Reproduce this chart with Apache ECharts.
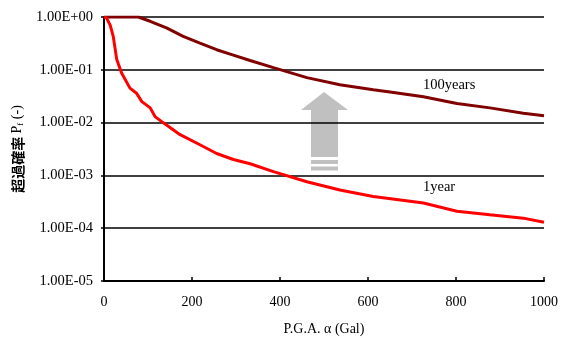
<!DOCTYPE html>
<html>
<head>
<meta charset="utf-8">
<script src="https://cdn.jsdelivr.net/npm/echarts@6/dist/echarts.min.js"></script>
<style>
  html, body { margin: 0; padding: 0; background: #fff; }
  #chart { width: 569px; height: 338px; }
</style>
</head>
<body>
<div id="chart"></div>
<script>
// 1year curve (P.G.A. in Gal, exceedance probability)
var gal1 = [0, 6, 14, 21, 29, 40, 59, 74, 86, 105, 116, 135, 173, 218, 256, 294, 332, 385, 461, 536, 612, 665, 726, 802, 877, 953, 1000];
var p1 = [1.0, 0.95, 0.7, 0.43, 0.156, 0.087, 0.045, 0.036, 0.025, 0.019, 0.013, 0.0099, 0.0059, 0.0038, 0.0026, 0.0020, 0.00166, 0.00118, 0.00076, 0.00053, 0.0004, 0.00035, 0.0003, 0.00021, 0.00018, 0.000155, 0.00013];

// 100years curve
var gal100 = [0, 40, 78, 105, 142, 180, 218, 256, 294, 332, 385, 461, 536, 612, 650, 726, 802, 877, 953, 1000];
var p100 = [1.0, 1.0, 1.0, 0.83, 0.62, 0.43, 0.32, 0.24, 0.19, 0.15, 0.11, 0.071, 0.052, 0.042, 0.038, 0.031, 0.023, 0.019, 0.015, 0.0135];

var yTickLabels = ['1.00E-05', '1.00E-04', '1.00E-03', '1.00E-02', '1.00E-01', '1.00E+00'];
var xTicks = [0, 200, 400, 600, 800, 1000];

function pairs(xs, ys) {
  var out = [];
  for (var i = 0; i < xs.length; i++) out.push([xs[i], ys[i]]);
  return out;
}

var chart = echarts.init(document.getElementById('chart'));
var serif = '"Liberation Serif", "DejaVu Serif", serif';

var option = {
  animation: false,
  grid: { left: 104, right: 25, top: 17, bottom: 57, containLabel: false, outerBoundsMode: 'none' },
  xAxis: {
    type: 'value',
    min: xTicks[0],
    max: xTicks[xTicks.length - 1],
    interval: 200,
    name: 'P.G.A. α (Gal)',
    nameLocation: 'middle',
    nameGap: 41,
    nameTextStyle: { fontFamily: serif, fontSize: 14, color: '#000' },
    axisLine: { lineStyle: { color: '#000', width: 2 } },
    axisTick: { inside: true, length: 4, lineStyle: { color: '#000', width: 1.5 } },
    axisLabel: {
      fontFamily: serif, fontSize: 14, color: '#000', margin: 14,
      formatter: function (v) { return String(v); }
    },
    splitLine: { show: false }
  },
  yAxis: {
    type: 'log',
    logBase: 10,
    min: 1e-5,
    max: 1,
    name: '{a|超過確率} {b|P}{c|f}{b| (-)}',
    nameLocation: 'middle',
    nameGap: 78,
    nameTextStyle: {
      rich: {
        a: { fontFamily: '"Noto Sans CJK JP", sans-serif', fontSize: 14, fontWeight: 'bold', color: '#000' },
        b: { fontFamily: serif, fontSize: 14, color: '#000' },
        c: { fontFamily: serif, fontSize: 9, color: '#000', padding: [6, 0, 0, 0] }
      }
    },
    axisLine: { show: true, lineStyle: { color: '#000', width: 2 } },
    axisTick: { show: true, length: 3, lineStyle: { color: '#000', width: 1.5 } },
    axisLabel: {
      fontFamily: serif, fontSize: 14.5, color: '#000', margin: 11,
      formatter: function (v) {
        var e = Math.round(Math.log10(v));
        return yTickLabels[e + 5];
      }
    },
    splitLine: { show: true, lineStyle: { color: '#000', width: 1.5 } }
  },
  graphic: [
    {
      type: 'polygon',
      shape: { points: [[324, 92], [348, 110], [338, 110], [338, 157], [311, 157], [311, 110], [301, 110]] },
      style: { fill: '#c0c0c0' }
    },
    { type: 'rect', shape: { x: 311, y: 160, width: 27, height: 4 }, style: { fill: '#c0c0c0' } },
    { type: 'rect', shape: { x: 311, y: 166.5, width: 27, height: 4 }, style: { fill: '#c0c0c0' } },
    {
      type: 'text', left: 423, top: 78,
      style: { text: '100years', font: '14.5px ' + serif, fill: '#000' }
    },
    {
      type: 'text', left: 423, top: 180,
      style: { text: '1year', font: '14.5px ' + serif, fill: '#000' }
    }
  ],
  series: [
    {
      name: '100years',
      type: 'line',
      data: pairs(gal100, p100),
      showSymbol: false,
      lineStyle: { color: '#800000', width: 3 },
      z: 3
    },
    {
      name: '1year',
      type: 'line',
      data: pairs(gal1, p1),
      showSymbol: false,
      lineStyle: { color: '#ff0000', width: 3 },
      z: 3
    }
  ]
};
chart.setOption(option);
</script>
</body>
</html>
